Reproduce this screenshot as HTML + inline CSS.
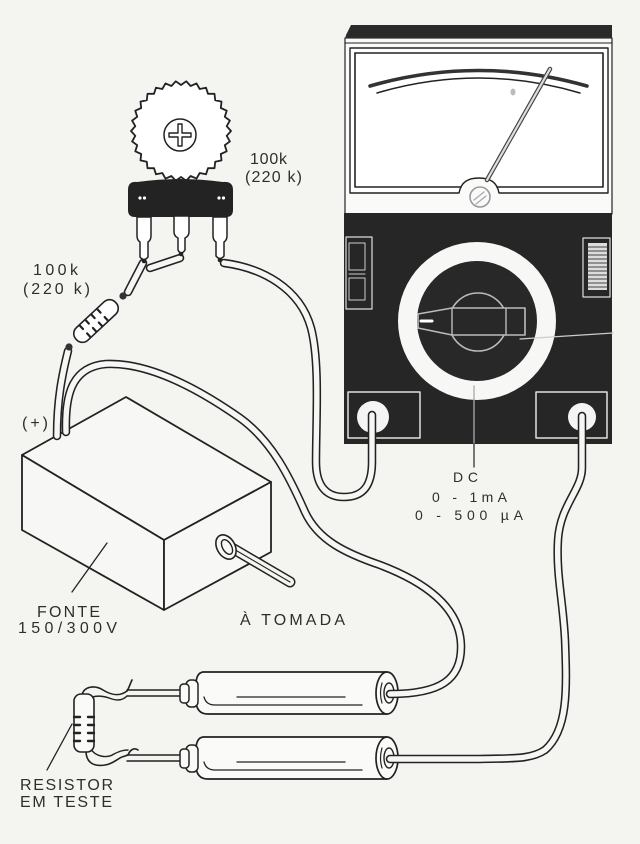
<!DOCTYPE html>
<html><head><meta charset="utf-8"><style>
html,body{margin:0;padding:0;background:#f4f4f1;}
svg{display:block}
text{font-family:"Liberation Sans",Arial,sans-serif;fill:#2e2e2e;}
</style></head><body>
<svg width="640" height="844" viewBox="0 0 640 844" xmlns="http://www.w3.org/2000/svg">
<rect width="640" height="844" fill="#f4f4f1"/>
<g fill="none" stroke="#222" stroke-width="1.6" stroke-linejoin="round" stroke-linecap="round">

<!-- ===== METER ===== -->
<path d="M346,35 L351,25 L612,25 L612,39 L345,39 Z" fill="#2a2a2a" stroke="none"/>
<rect x="345" y="38" width="267" height="176" fill="#fafaf8" stroke="#333" stroke-width="1.3"/>
<line x1="345" y1="43" x2="612" y2="43" stroke-width="1"/>
<path d="M350,48 H608 V193 H499 C497,182 490,178 479,178 C468,178 461,182 459,193 H350 Z" fill="#fff" stroke-width="1.4"/>
<path d="M355,53 H603 V187 H497" stroke-width="1.6"/>
<path d="M461,187 H355 V53" stroke-width="1.6"/>
<path d="M370,86 Q478,55 587,86" stroke="#333" stroke-width="3.6"/>
<path d="M377,93 Q478,63 580,93" stroke-width="1.5"/>
<ellipse cx="513" cy="92" rx="2.5" ry="3.5" fill="#bbb" stroke="none"/>
<line x1="487" y1="180" x2="550" y2="69" stroke="#444" stroke-width="4.5"/>
<line x1="487" y1="180" x2="550" y2="69" stroke="#ddd" stroke-width="2.2"/>
<circle cx="480" cy="197" r="10" stroke="#999" stroke-width="1.6" fill="#fafafa"/>
<path d="M474,200 L484,192 M476,204 L486,196" stroke="#aaa" stroke-width="1.3"/>

<rect x="344" y="213" width="268" height="231" fill="#262626" stroke="none"/>
<circle cx="477" cy="321" r="79" fill="#f7f7f5" stroke="none"/>
<circle cx="477" cy="321" r="60" fill="#282828" stroke="none"/>
<circle cx="478" cy="322" r="29" stroke="#bbb" stroke-width="1.6"/>
<path d="M418,314 L452,308 L525,308 L525,335 L452,335 L418,328 Z" stroke="#bbb" stroke-width="1.6" fill="#282828"/>
<path d="M452,308 V335 M506,308 V335" stroke="#bbb" stroke-width="1.4"/>
<line x1="421" y1="321" x2="432" y2="321" stroke="#fff" stroke-width="3"/>
<line x1="520" y1="339" x2="613" y2="333" stroke="#ccc" stroke-width="1.3"/>
<line x1="474" y1="386" x2="474" y2="444" stroke="#aaa" stroke-width="1.3"/>
<line x1="474" y1="444" x2="474" y2="467" stroke="#333" stroke-width="1.3"/>

<rect x="346" y="237" width="26" height="72" stroke="#ddd" stroke-width="1.2"/>
<rect x="349" y="243" width="16" height="27" stroke="#ccc" stroke-width="1"/>
<rect x="349" y="278" width="16" height="22" stroke="#ccc" stroke-width="1"/>
<line x1="349" y1="274" x2="365" y2="274" stroke="#ccc" stroke-width="1"/>

<rect x="583" y="238" width="27" height="59" stroke="#ddd" stroke-width="1.2"/>
<rect x="588" y="243" width="19" height="47" fill="#ddd" stroke="none"/>
<path d="M588,247 H607 M588,251 H607 M588,255 H607 M588,259 H607 M588,263 H607 M588,267 H607 M588,271 H607 M588,275 H607 M588,279 H607 M588,283 H607 M588,287 H607" stroke="#444" stroke-width="1"/>

<rect x="348" y="392" width="72" height="46" stroke="#e0e0e0" stroke-width="1.5"/>
<rect x="536" y="392" width="71" height="46" stroke="#e0e0e0" stroke-width="1.5"/>
<circle cx="373" cy="417" r="16" fill="#f4f4f4" stroke="none"/>
<circle cx="582" cy="417" r="14" fill="#f4f4f4" stroke="none"/>

<!-- ===== POWER BOX ===== -->
<path d="M22,455 L126,397 L271,482 L164,540 Z" fill="#f7f7f5" stroke-width="1.8"/>
<path d="M22,455 L164,540 L164,610 L22,530 Z" fill="#f7f7f5" stroke-width="1.8"/>
<path d="M164,540 L271,482 L271,552 L164,610 Z" fill="#f7f7f5" stroke-width="1.8"/>
<path d="M232,548 L290,582" stroke="#222" stroke-width="11"/>
<path d="M232,548 L290,582" stroke="#f4f4f1" stroke-width="8"/>
<path d="M232,548 L290,582" stroke="#222" stroke-width="1.1"/>
<ellipse cx="226" cy="547" rx="9" ry="13" transform="rotate(-30 226 547)" fill="#f7f7f5" stroke-width="1.6"/>
<ellipse cx="227" cy="547" rx="4.5" ry="8" transform="rotate(-30 227 547)" stroke-width="1.4"/>
<line x1="107" y1="543" x2="72" y2="592" stroke-width="1.3"/>

<!-- ===== PROBES ===== -->
<g id="probe">
<path d="M127,690 H184 M127,696 H184" stroke-width="1.5"/>
<path d="M387,672 L203,672 Q196,673 196,685 L196,700 Q196,714 208,714 L387,714" fill="#fafaf8" stroke-width="1.7"/>
<rect x="186" y="680" width="12" height="27" rx="5" fill="#fafaf8" stroke-width="1.5"/>
<rect x="180" y="684" width="9" height="19" rx="3.5" fill="#fafaf8" stroke-width="1.5"/>
<ellipse cx="387" cy="693" rx="11" ry="21" fill="#fafaf8" stroke-width="1.7"/>
<ellipse cx="389" cy="693" rx="5" ry="10" stroke-width="1.4"/>
<path d="M382,683 Q379,693 382,703" stroke-width="1.2"/>
<path d="M237,697 H345" stroke-width="1.3"/>
<path d="M204,697 Q206,705 215,705 H362" stroke-width="1.3"/>
</g>
<use href="#probe" transform="translate(0,65)"/>

<!-- ===== WIRES ===== -->
<g stroke="#222" stroke-width="8.5">
<path d="M224,263 C262,268 300,288 311,328 C320,362 316,420 316,462 C316,488 328,497 344,497 C363,497 372,486 372,462 L372,415"/>
<path d="M66,432 C65,398 70,367 106,364 C150,362 200,390 240,418 C272,441 290,478 305,512 C318,540 345,553 380,565 C430,584 460,610 461,645 C462,680 440,694 390,694"/>
<path d="M582,416 L582,468 C582,490 560,505 558,540 C556,575 563,600 565,640 C567,690 568,730 545,750 C530,760 510,758 480,759 L390,759"/>
<path d="M68,351 C62,375 57,400 57,436"/>
<path d="M143,263 L128,292"/>
<path d="M150,268 L180,258"/>
</g>
<g stroke="#f6f6f4" stroke-width="5.4">
<path d="M224,263 C262,268 300,288 311,328 C320,362 316,420 316,462 C316,488 328,497 344,497 C363,497 372,486 372,462 L372,415"/>
<path d="M66,432 C65,398 70,367 106,364 C150,362 200,390 240,418 C272,441 290,478 305,512 C318,540 345,553 380,565 C430,584 460,610 461,645 C462,680 440,694 390,694"/>
<path d="M582,416 L582,468 C582,490 560,505 558,540 C556,575 563,600 565,640 C567,690 568,730 545,750 C530,760 510,758 480,759 L390,759"/>
<path d="M68,351 C62,375 57,400 57,436"/>
<path d="M143,263 L128,292"/>
<path d="M150,268 L180,258"/>
</g>

<!-- ===== POTENTIOMETER ===== -->
<path d="M231,131 L226.7,126.2 L229.9,120.6 L224.8,116.8 L226.7,110.7 L220.8,108 L221.5,101.6 L215.2,100.2 L214.5,93.8 L208,93.8 L206,87.7 L199.7,89 L196.5,83.4 L190.6,86 L186.2,81.3 L181,85 L175.8,81.3 L171.4,86 L165.5,83.4 L162.3,89 L156,87.7 L154,93.8 L147.5,93.8 L146.8,100.2 L140.5,101.6 L141.2,108 L135.3,110.7 L137.2,116.8 L132.1,120.6 L135.3,126.2 L131,131 L135.3,135.8 L132.1,141.4 L137.2,145.2 L135.3,151.3 L141.2,154 L140.5,160.4 L146.8,161.8 L147.5,168.2 L154,168.2 L156,174.3 L162.3,173 L165.5,178.6 L171.4,176 L175.8,180.7 L181,177 L186.2,180.7 L190.6,176 L196.5,178.6 L199.7,173 L206,174.3 L208,168.2 L214.5,168.2 L215.2,161.8 L221.5,160.4 L220.8,154 L226.7,151.3 L224.8,145.2 L229.9,141.4 L226.7,135.8 Z" fill="#fff" stroke-width="1.8"/>
<circle cx="180" cy="135" r="16" fill="#fff" stroke-width="1.5"/>
<path d="M178,124 H182 V133 H191 V137 H182 V146 H178 V137 H169 V133 H178 Z" stroke-width="1.4"/>
<path d="M128,190 Q128,181 137,182 Q180,176 223,182 Q233,181 233,190 L233,210 Q233,217 226,217 L135,217 Q128,217 128,210 Z" fill="#232323" stroke="none"/>
<g fill="#fff" stroke="none">
<circle cx="140" cy="198" r="1.6"/><circle cx="144.5" cy="198" r="1.6"/>
<circle cx="219" cy="198" r="1.6"/><circle cx="223.5" cy="198" r="1.6"/>
</g>
<path d="M137,217 L151,217 L151,236 Q151,240 148,242 L148,257 Q144,262 140,257 L140,242 Q137,240 137,236 Z" fill="#fff" stroke-width="1.5"/>
<path d="M174,216 L189,216 L189,232 Q189,236 185,238 L185,250 Q181,256 178,250 L178,238 Q174,236 174,232 Z" fill="#fff" stroke-width="1.5"/>
<path d="M213,217 L227,217 L227,236 Q227,240 224,242 L224,256 Q220,261 216,256 L216,242 Q213,240 213,236 Z" fill="#fff" stroke-width="1.5"/>
<circle cx="144" cy="261" r="2.3" fill="#222" stroke="none"/>
<circle cx="181" cy="254" r="2.3" fill="#222" stroke="none"/>
<circle cx="220" cy="260" r="2.3" fill="#222" stroke="none"/>

<g transform="translate(96,321) rotate(-43)">
<rect x="-27" y="-8.5" width="54" height="17" rx="8" fill="#fff" stroke-width="1.6"/>
<path d="M-15,-8 V-3 M-7,-8 V-3 M1,-8 V-3 M9,-8 V-3 M-15,8 V3 M-7,8 V3 M1,8 V3 M9,8 V3" stroke-width="2.2"/>
</g>
<circle cx="123" cy="296" r="3.6" fill="#333" stroke="none"/>
<circle cx="69" cy="347" r="3.6" fill="#333" stroke="none"/>

<!-- resistor under test -->
<path d="M82,695 C84,686 95,685 103,690 C111,695 119,697 127,691 C129,688 130,684 132,680" stroke-width="1.6"/>
<path d="M86,700 C95,694 104,696 112,699 C118,701 123,700 127,696" stroke-width="1.4"/>
<path d="M86,751 C86,762 93,767 105,765 C113,764 117,759 122,757 L128,755 C130,750 134,747 138,750" stroke-width="1.6"/>
<path d="M90,748 C96,758 108,758 114,754 C118,752 122,750 128,750" stroke-width="1.4"/>
<rect x="74" y="694" width="20" height="58" rx="7" fill="#fafaf8" stroke-width="1.6"/>
<path d="M74,717 H80 M74,725 H80 M74,733 H80 M74,741 H80 M94,717 H88 M94,725 H88 M94,733 H88 M94,741 H88" stroke-width="2.4"/>
<line x1="72" y1="724" x2="47" y2="770" stroke-width="1.3"/>
</g>

<!-- ===== TEXT ===== -->
<text x="250" y="164" font-size="16" textLength="37" lengthAdjust="spacing">100k</text>
<text x="245" y="182" font-size="16" textLength="57" lengthAdjust="spacing">(220 k)</text>
<text x="33" y="275" font-size="16" textLength="45" lengthAdjust="spacing">100k</text>
<text x="23" y="294" font-size="16" textLength="67" lengthAdjust="spacing">(220 k)</text>
<text x="22" y="428" font-size="16" textLength="26" lengthAdjust="spacing">(+)</text>
<text x="37" y="617" font-size="16" textLength="63" lengthAdjust="spacing">FONTE</text>
<text x="18" y="633" font-size="16" textLength="99" lengthAdjust="spacing">150/300V</text>
<text x="240" y="625" font-size="16" textLength="105" lengthAdjust="spacing">À TOMADA</text>
<text x="453" y="482" font-size="14" textLength="25" lengthAdjust="spacing">DC</text>
<text x="432" y="502" font-size="14" textLength="75" lengthAdjust="spacing">0 - 1mA</text>
<text x="415" y="520" font-size="14" textLength="108" lengthAdjust="spacing">0 - 500 µA</text>
<text x="20" y="790" font-size="16" textLength="93" lengthAdjust="spacing">RESISTOR</text>
<text x="20" y="807" font-size="16" textLength="92" lengthAdjust="spacing">EM TESTE</text>
</svg>
</body></html>
